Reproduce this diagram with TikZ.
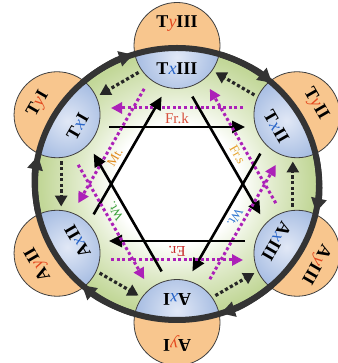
\documentclass[tikz,border=0pt]{standalone}
\usepackage{fontspec}
\setmainfont{Liberation Serif}
\usetikzlibrary{arrows.meta,calc}
\definecolor{ringgreen}{RGB}{194,215,152}
\definecolor{orfill}{RGB}{248,198,142}
\definecolor{blfill}{RGB}{160,184,224}
\definecolor{bllight}{RGB}{225,232,246}
\definecolor{ringgray}{RGB}{52,52,52}
\definecolor{purp}{RGB}{172,32,184}
\definecolor{xblue}{RGB}{40,100,200}
\definecolor{yred}{RGB}{228,72,30}
\definecolor{frk}{RGB}{215,80,60}
\definecolor{ert}{RGB}{200,40,40}
\definecolor{mtc}{RGB}{225,140,30}
\definecolor{frs}{RGB}{230,160,40}
\definecolor{wtg}{RGB}{60,160,60}
\definecolor{wtb}{RGB}{50,120,210}
\pgfdeclareradialshading{greenring}{\pgfpoint{0bp}{0bp}}{color(0bp)=(white); color(11bp)=(white); color(17bp)=(ringgreen!50!white); color(24bp)=(ringgreen); color(50bp)=(ringgreen)}
\begin{document}
\begin{tikzpicture}[x=1pt,y=1pt,
  bubble/.style={circle, minimum size=86pt, inner sep=0pt, fill=orfill},
  ringline/.style={draw=ringgray, line width=6pt},
  ringarrow/.style={draw=ringgray, line width=6pt, -{Triangle[length=14pt,width=15pt]}},
  dotarrow/.style={draw=black!85, line width=3.2pt, dash pattern=on 3.2pt off 2.4pt, -{Triangle[length=11pt,width=12pt]}},
  blkarrow/.style={draw=black, line width=2.6pt, -{Triangle[length=13pt,width=12pt]}},
  purarrow/.style={draw=purp, line width=3pt, dash pattern=on 3pt off 2.6pt, -{Triangle[length=11pt,width=11pt]}},
  biglab/.style={font=\fontsize{18}{18}\selectfont, inner sep=0pt},
  smalllab/.style={font=\fontsize{13}{13}\selectfont, inner sep=0pt}
]
\useasboundingbox (0,0) rectangle (337,363);
\coordinate (O) at (177,179);
% green interior
\shade[shading=greenring] (O) ellipse [x radius=142pt, y radius=136pt];
% bubbles
\foreach \i/\a in {1/90, 2/30, 3/-30, 4/-90, 5/210, 6/150} {
  \node[bubble] (C\i) at ($(O)+(\a:138.5pt)$) {};
  \begin{scope}
    \clip (C\i.center) circle [radius=43pt];
    \clip (O) ellipse [x radius=142pt, y radius=136pt];
    \shade[inner color=bllight, outer color=blfill] ($(C\i.center)+(\a+180:12pt)$) circle [radius=46pt];
  \end{scope}
  \draw[black!75, line width=0.8pt] (C\i.center) circle [radius=43pt];
}
% outer ring
\draw[ringline] (O) ellipse [x radius=142pt, y radius=136pt];
\foreach \a in {90, 30, -30, -90, 210, 150} {
  \draw[ringarrow] ($(O)+(\a+42:142pt and 136pt)$) arc [start angle=\a+42, end angle=\a+18, x radius=142pt, y radius=136pt];
}
% dotted inner arrows (counterclockwise)
\foreach \i/\a in {1/90, 2/30, 3/-30, 4/-90, 5/210, 6/150} {
  \coordinate (ds\i) at ($(O)+(\a+19:118pt)$);
  \coordinate (de\i) at ($(O)+(\a+41:118pt)$);
  \draw[dotarrow] (ds\i) -- (de\i);
}
% hexagram
\foreach \i/\a in {1/90, 2/150, 3/30, 4/-30, 5/-90, 6/210} {
  \coordinate (bs\i) at ($(O)+(\a:57pt)+(\a+90:68pt)$);
  \coordinate (be\i) at ($(O)+(\a:57pt)+(\a-90:68pt)$);
  \coordinate (ps\i) at ($(O)+(\a:76pt)+(\a-90:66pt)$);
  \coordinate (pe\i) at ($(O)+(\a:76pt)+(\a+90:66pt)$);
  \draw[purarrow] (ps\i) -- (pe\i);
  \draw[blkarrow] (bs\i) -- (be\i);
}
% line labels
\node[smalllab, text=frk, font=\fontsize{15}{15}\selectfont] (lfrk) at ($(O)+(90:66pt)$) {Fr.k};
\node[smalllab, text=ert, font=\fontsize{15}{15}\selectfont, rotate=180] (ler) at ($(O)+(-90:67pt)$) {Er.};
\node[smalllab, text=mtc, rotate=60] (lmt) at ($(O)+(150:67pt)+(60:-8pt)$) {Mt.};
\node[smalllab, text=frs, rotate=-60] (lfrs) at ($(O)+(30:67pt)+(-60:5pt)$) {Fr.s};
\node[smalllab, text=wtg, rotate=120] (lwtl) at ($(O)+(210:67pt)+(120:7pt)$) {Wt.};
\node[smalllab, text=wtb, rotate=-120] (lwtr) at ($(O)+(-30:67pt)$) {Wt.};
% bubble labels
\foreach \i/\a/\L/\N in {1/90/T/III, 2/30/T/II, 3/-30/A/III, 4/-90/A/I, 5/210/A/II, 6/150/T/I} {
  \node[biglab, rotate=\a-90] (in\i) at ($(O)+(\a:115pt)$) {\textbf{\L}\textcolor{xblue}{\textit{x}}\textbf{\N}};
  \node[biglab, rotate=\a-90] (out\i) at ($(O)+(\a:160pt)$) {\textbf{\L}\textcolor{yred}{\textit{y}}\textbf{\N}};
}
\end{tikzpicture}
\end{document}
